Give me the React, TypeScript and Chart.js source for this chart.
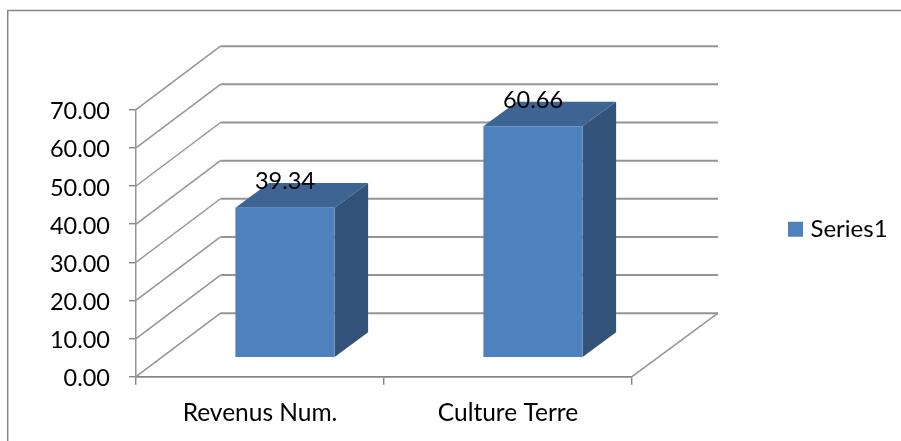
import React, { useEffect, useRef } from "react";
import { Chart, registerables } from "chart.js";

Chart.register(...registerables);

const categories = ["Revenus Num.", "Culture Terre"];
const seriesName = "Series1";
const seriesValues = [39.34, 60.66];

const FONT = "Lato";
const AXIS = "#868686";
const FRONT = "#4F81BD";
const SIDE = "#325279";
const TOP = "#3E6493";

// oblique projection offsets (px) of the 3D box
const WALL = { dx: 84.5, dy: -63.5 };
const BAR_START = { dx: 25, dy: -19 };
const BAR_DEPTH = { dx: 33.5, dy: -24.7 };

const poly = (ctx: CanvasRenderingContext2D, pts: number[][], fill: string) => {
  ctx.beginPath();
  pts.forEach(([x, y], i) => (i ? ctx.lineTo(x, y) : ctx.moveTo(x, y)));
  ctx.closePath();
  ctx.fillStyle = fill;
  ctx.fill();
};

const threeD = {
  id: "threeD",
  beforeDraw(chart: any) {
    // frame of the chart object: only its top and left edges are in the picture
    const { ctx, width, height } = chart;
    ctx.save();
    ctx.strokeStyle = AXIS;
    ctx.lineWidth = 1.5;
    ctx.beginPath();
    ctx.moveTo(7.7, height);
    ctx.lineTo(7.7, 10.5);
    ctx.lineTo(width, 10.5);
    ctx.stroke();
    ctx.restore();
  },
  afterLayout(chart: any) {
    const l = chart.legend;
    const h = l.bottom - l.top;
    const w = l.right - l.left;
    l.left = 788;
    l.right = 788 + w;
    l.top = 212.7;
    l.bottom = 212.7 + h;
  },
  beforeDatasetsDraw(chart: any) {
    const { ctx, chartArea, scales } = chart;
    const y = scales.y;
    ctx.save();
    ctx.strokeStyle = "#949494";
    y.ticks.forEach((t: any) => {
      const py = y.getPixelForValue(t.value);
      ctx.lineWidth = 1.5;
      ctx.beginPath();
      ctx.moveTo(chartArea.left, py);
      ctx.lineTo(chartArea.left + WALL.dx, py + WALL.dy);
      ctx.stroke();
      ctx.lineWidth = 2;
      ctx.beginPath();
      ctx.moveTo(chartArea.left + WALL.dx, py + WALL.dy);
      ctx.lineTo(chartArea.right + WALL.dx + 1.5, py + WALL.dy);
      ctx.stroke();
    });
    // right edge of the floor
    ctx.lineWidth = 1.5;
    ctx.beginPath();
    ctx.moveTo(chartArea.right, chartArea.bottom);
    ctx.lineTo(chartArea.right + WALL.dx + 1.5, chartArea.bottom + WALL.dy);
    ctx.stroke();
    ctx.restore();
  },
  beforeDatasetDraw(chart: any, args: any) {
    const { ctx } = chart;
    const meta = args.meta;
    ctx.save();
    ctx.translate(BAR_START.dx, BAR_START.dy);
    meta.data.forEach((el: any) => {
      const l = el.x - el.width / 2;
      const r = el.x + el.width / 2;
      const t = el.y;
      const b = el.base;
      const { dx, dy } = BAR_DEPTH;
      poly(ctx, [[r, t], [r + dx, t + dy], [r + dx, b + dy], [r, b]], SIDE);
      poly(ctx, [[l, t], [l + dx, t + dy], [r + dx, t + dy], [r, t]], TOP);
    });
  },
  afterDatasetDraw(chart: any) {
    chart.ctx.restore();
  },
  afterDatasetsDraw(chart: any) {
    const { ctx } = chart;
    const meta = chart.getDatasetMeta(0);
    ctx.save();
    ctx.fillStyle = "#000";
    ctx.font = `23.5px ${FONT}`;
    ctx.textAlign = "center";
    ctx.textBaseline = "middle";
    meta.data.forEach((el: any, i: number) => {
      ctx.fillText(
        seriesValues[i].toFixed(2),
        el.x + BAR_START.dx,
        el.y + BAR_START.dy - 26
      );
    });
    ctx.restore();
  },
};

export default function App() {
  const ref = useRef<HTMLCanvasElement>(null);
  useEffect(() => {
    document.body.style.margin = "0";
    const chart = new Chart(ref.current!, {
      type: "bar",
      data: {
        labels: categories,
        datasets: [
          {
            label: seriesName,
            data: seriesValues,
            backgroundColor: FRONT,
            barPercentage: 1,
            categoryPercentage: 0.4,
            clip: false,
          } as any,
        ],
      },
      plugins: [threeD],
      options: {
        animation: false,
        responsive: false,
        devicePixelRatio: 1,
        layout: {
          autoPadding: false,
          padding: { left: 0, top: 109.7, right: 269, bottom: 0 },
        },
        plugins: {
          title: { display: false },
          tooltip: { enabled: false },
          legend: {
            position: "chartArea" as any,
            align: "start",
            labels: {
              boxWidth: 6,
              boxHeight: 6,
              padding: 4.5,
              color: "#000",
              font: { family: FONT, size: 24 },
              generateLabels: () => [
                {
                  text: seriesName,
                  fillStyle: FRONT,
                  strokeStyle: FRONT,
                  lineWidth: 9,
                  datasetIndex: 0,
                },
              ],
            },
          },
        },
        scales: {
          x: {
            afterFit: (s: any) => {
              s.height = 64.3;
            },
            border: { display: true, color: AXIS, width: 1.8 },
            grid: {
              display: true,
              drawOnChartArea: false,
              drawTicks: true,
              tickLength: 8,
              color: AXIS,
              lineWidth: 1.4,
            },
            ticks: {
              color: "#000",
              padding: 14,
              maxRotation: 0,
              font: { family: FONT, size: 24.5 },
            },
          },
          y: {
            min: 0,
            max: 70,
            afterFit: (s: any) => {
              s.width = 136;
            },
            border: { display: true, color: "#949494", width: 1.5 },
            grid: {
              display: true,
              drawOnChartArea: false,
              drawTicks: true,
              tickLength: 7,
              color: AXIS,
              lineWidth: 1.4,
            },
            ticks: {
              stepSize: 10,
              color: "#000",
              padding: 19,
              labelOffset: 2,
              font: { family: FONT, size: 23.5 },
              callback: (v: any) => Number(v).toFixed(2),
            },
          },
        },
      },
    });
    return () => chart.destroy();
  }, []);
  return (
    <canvas
      ref={ref}
      width={901}
      height={441}
      style={{ position: "fixed", left: 0, top: 0, width: 901, height: 441 }}
    />
  );
}
